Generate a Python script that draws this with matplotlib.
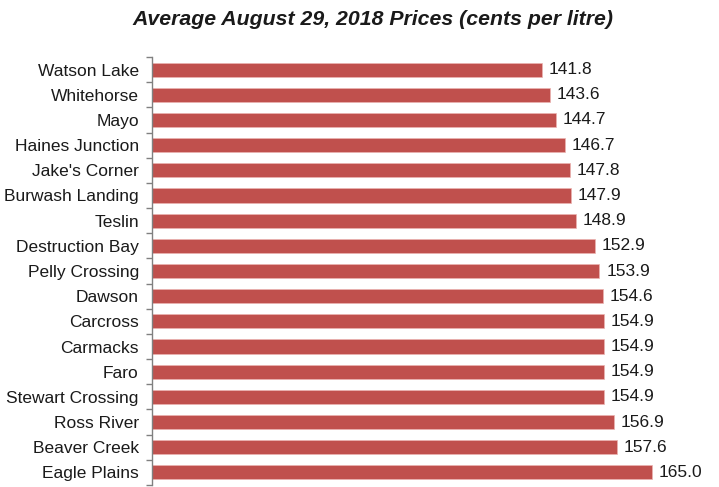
import matplotlib.pyplot as plt

communities = ["Watson Lake", "Whitehorse", "Mayo", "Haines Junction", "Jake's Corner",
               "Burwash Landing", "Teslin", "Destruction Bay", "Pelly Crossing", "Dawson",
               "Carcross", "Carmacks", "Faro", "Stewart Crossing", "Ross River",
               "Beaver Creek", "Eagle Plains"]
prices = [141.8, 143.6, 144.7, 146.7, 147.8, 147.9, 148.9, 152.9, 153.9, 154.6,
          154.9, 154.9, 154.9, 154.9, 156.9, 157.6, 165.0]

plt.rcParams['font.family'] = ['Liberation Sans', 'DejaVu Sans']

fig = plt.figure(figsize=(7.19, 4.87), dpi=100)
ax = fig.add_axes([152/719, 2/487, (700-152)/719, (485-57)/487])

y = range(len(prices))
ax.barh(y, prices, height=0.56, color='#C0504D', edgecolor='#EBB3B1', linewidth=0.5)
for i, v in enumerate(prices):
    ax.text(v + 1.4, i, "{:.1f}".format(v), va='center', ha='left', fontsize=12.5, color='#1a1a1a')

ax.set_xlim(60, 175)
ax.set_ylim(len(prices) - 0.5, -0.5)
ax.set_yticks(list(y))
ax.set_yticklabels(communities, fontsize=12.5, color='#1a1a1a')
ax.set_yticks([i - 0.5 for i in range(len(prices) + 1)], minor=True)
ax.tick_params(axis='y', which='major', length=0, pad=9.5)
ax.tick_params(axis='y', which='minor', length=4, width=1, color='#808080', direction='out')
ax.set_xticks([])
for s in ['top', 'right', 'bottom']:
    ax.spines[s].set_visible(False)
ax.spines['left'].set_color('#808080')
ax.spines['left'].set_linewidth(1)

fig.text(0.518, 0.960, "Average August 29, 2018 Prices (cents per litre)", ha='center', va='center',
         fontsize=15.3, fontweight='bold', fontstyle='italic', color='#1a1a1a')

fig.savefig("out.png", dpi=100)
